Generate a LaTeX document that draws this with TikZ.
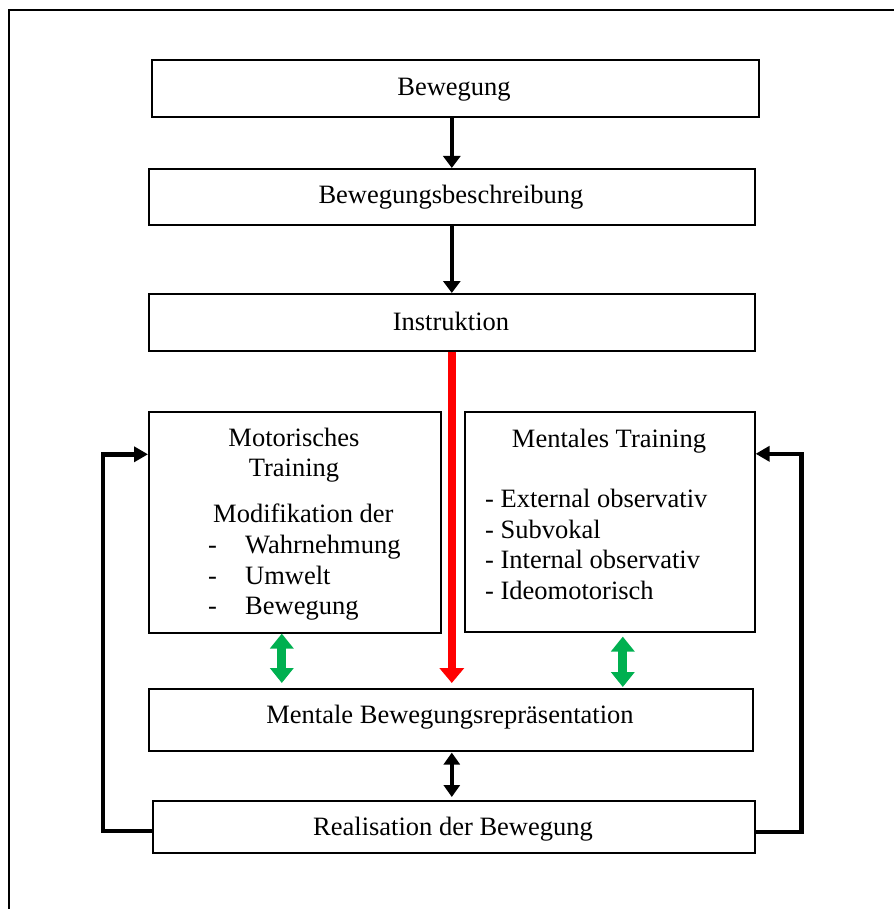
\documentclass[tikz,border=0pt]{standalone}
\usepackage{fontspec}
\setmainfont{Liberation Serif}
\usetikzlibrary{arrows.meta}
\definecolor{arrowgreen}{RGB}{0,176,80}
\definecolor{arrowred}{RGB}{255,0,0}
\begin{document}
\begin{tikzpicture}[x=1pt,y=-1pt,
  box/.style={draw, line width=1.6pt, inner sep=0pt, anchor=north west},
  txt/.style={inner sep=0pt, anchor=base, font=\fontsize{26.5}{31.5}\selectfont},
  txtl/.style={txt, anchor=base west},
  blk/.style={line width=4.5pt, -{Triangle[length=12pt,width=17pt]}},
  blkboth/.style={line width=4.5pt, {Triangle[length=12pt,width=16pt]}-{Triangle[length=12pt,width=16pt]}},
  redarrow/.style={line width=8pt, arrowred, -{Triangle[length=15pt,width=24pt]}},
  greenboth/.style={line width=9pt, arrowgreen, {Triangle[length=15pt,width=23pt]}-{Triangle[length=15pt,width=23pt]}},
  feedback/.style={line width=4.5pt, -{Triangle[length=14pt,width=15pt]}}
]
\useasboundingbox (0,0) rectangle (894,909);

% outer frame
\draw[line width=1.6pt] (9,909) -- (9,10) -- (894,10);

% boxes
\node[box, minimum width=607, minimum height=57] (bew) at (151,59) {};
\node[box, minimum width=606, minimum height=56] (besch) at (148,168) {};
\node[box, minimum width=606, minimum height=57] (instr) at (148,293) {};
\node[box, minimum width=292, minimum height=221] (mot) at (148,411) {};
\node[box, minimum width=290, minimum height=220] (ment) at (464,411) {};
\node[box, minimum width=604, minimum height=62] (rep) at (148,688) {};
\node[box, minimum width=602, minimum height=52] (real) at (152,800) {};

% labels
\node[txt] (tbew) at (454,96) {Bewegung};
\node[txt] (tbesch) at (451,204) {Bewegungsbeschreibung};
\node[txt] (tinstr) at (451,330) {Instruktion};
\node[txt] (trep) at (450,723) {Mentale Bewegungsrepräsentation};
\node[txt] (treal) at (453,835) {Realisation der Bewegung};

\node[txt] (tmot1) at (294,446) {Motorisches};
\node[txt] (tmot2) at (294,476) {Training};
\node[txtl] (tmod) at (213,522) {Modifikation der};
\node[txtl] (dash1) at (208,553) {-};
\node[txtl] (dash2) at (208,584) {-};
\node[txtl] (dash3) at (208,614) {-};
\node[txtl] (tw) at (245,553) {Wahrnehmung};
\node[txtl] (tu) at (245,584) {Umwelt};
\node[txtl] (tb) at (245,614) {Bewegung};

\node[txt] (tment) at (609,447) {Mentales Training};
\node[txtl] (tm1) at (485,507) {- External observativ};
\node[txtl] (tm2) at (485,538) {- Subvokal};
\node[txtl] (tm3) at (485,568) {- Internal observativ};
\node[txtl] (tm4) at (485,599) {- Ideomotorisch};

% connectors
\draw[blk] (bew.south -| besch.north) -- (besch.north);
\draw[blk] (besch.south) -- (instr.north);
\draw[redarrow, shorten >=5pt] (instr.south) -- (instr.south |- rep.north);
\draw[greenboth, shorten >=5pt] ([xshift=-13pt]mot.south) -- ([xshift=-13pt]mot.south |- rep.north);
\draw[greenboth, shorten <=4pt, shorten >=1pt] ([xshift=13pt]ment.south) -- ([xshift=13pt]ment.south |- rep.north);
\draw[blkboth, shorten <=1pt, shorten >=3pt] ([xshift=1pt]rep.south) -- ([xshift=1pt]rep.south |- real.north);
\draw[feedback] ([yshift=-4pt]real.west) -- ++(-49,0) |- ([yshift=68pt]mot.west);
\draw[feedback] ([yshift=-5pt]real.east) -- ++(46,0) |- ([yshift=68pt]ment.east);
\end{tikzpicture}
\end{document}
